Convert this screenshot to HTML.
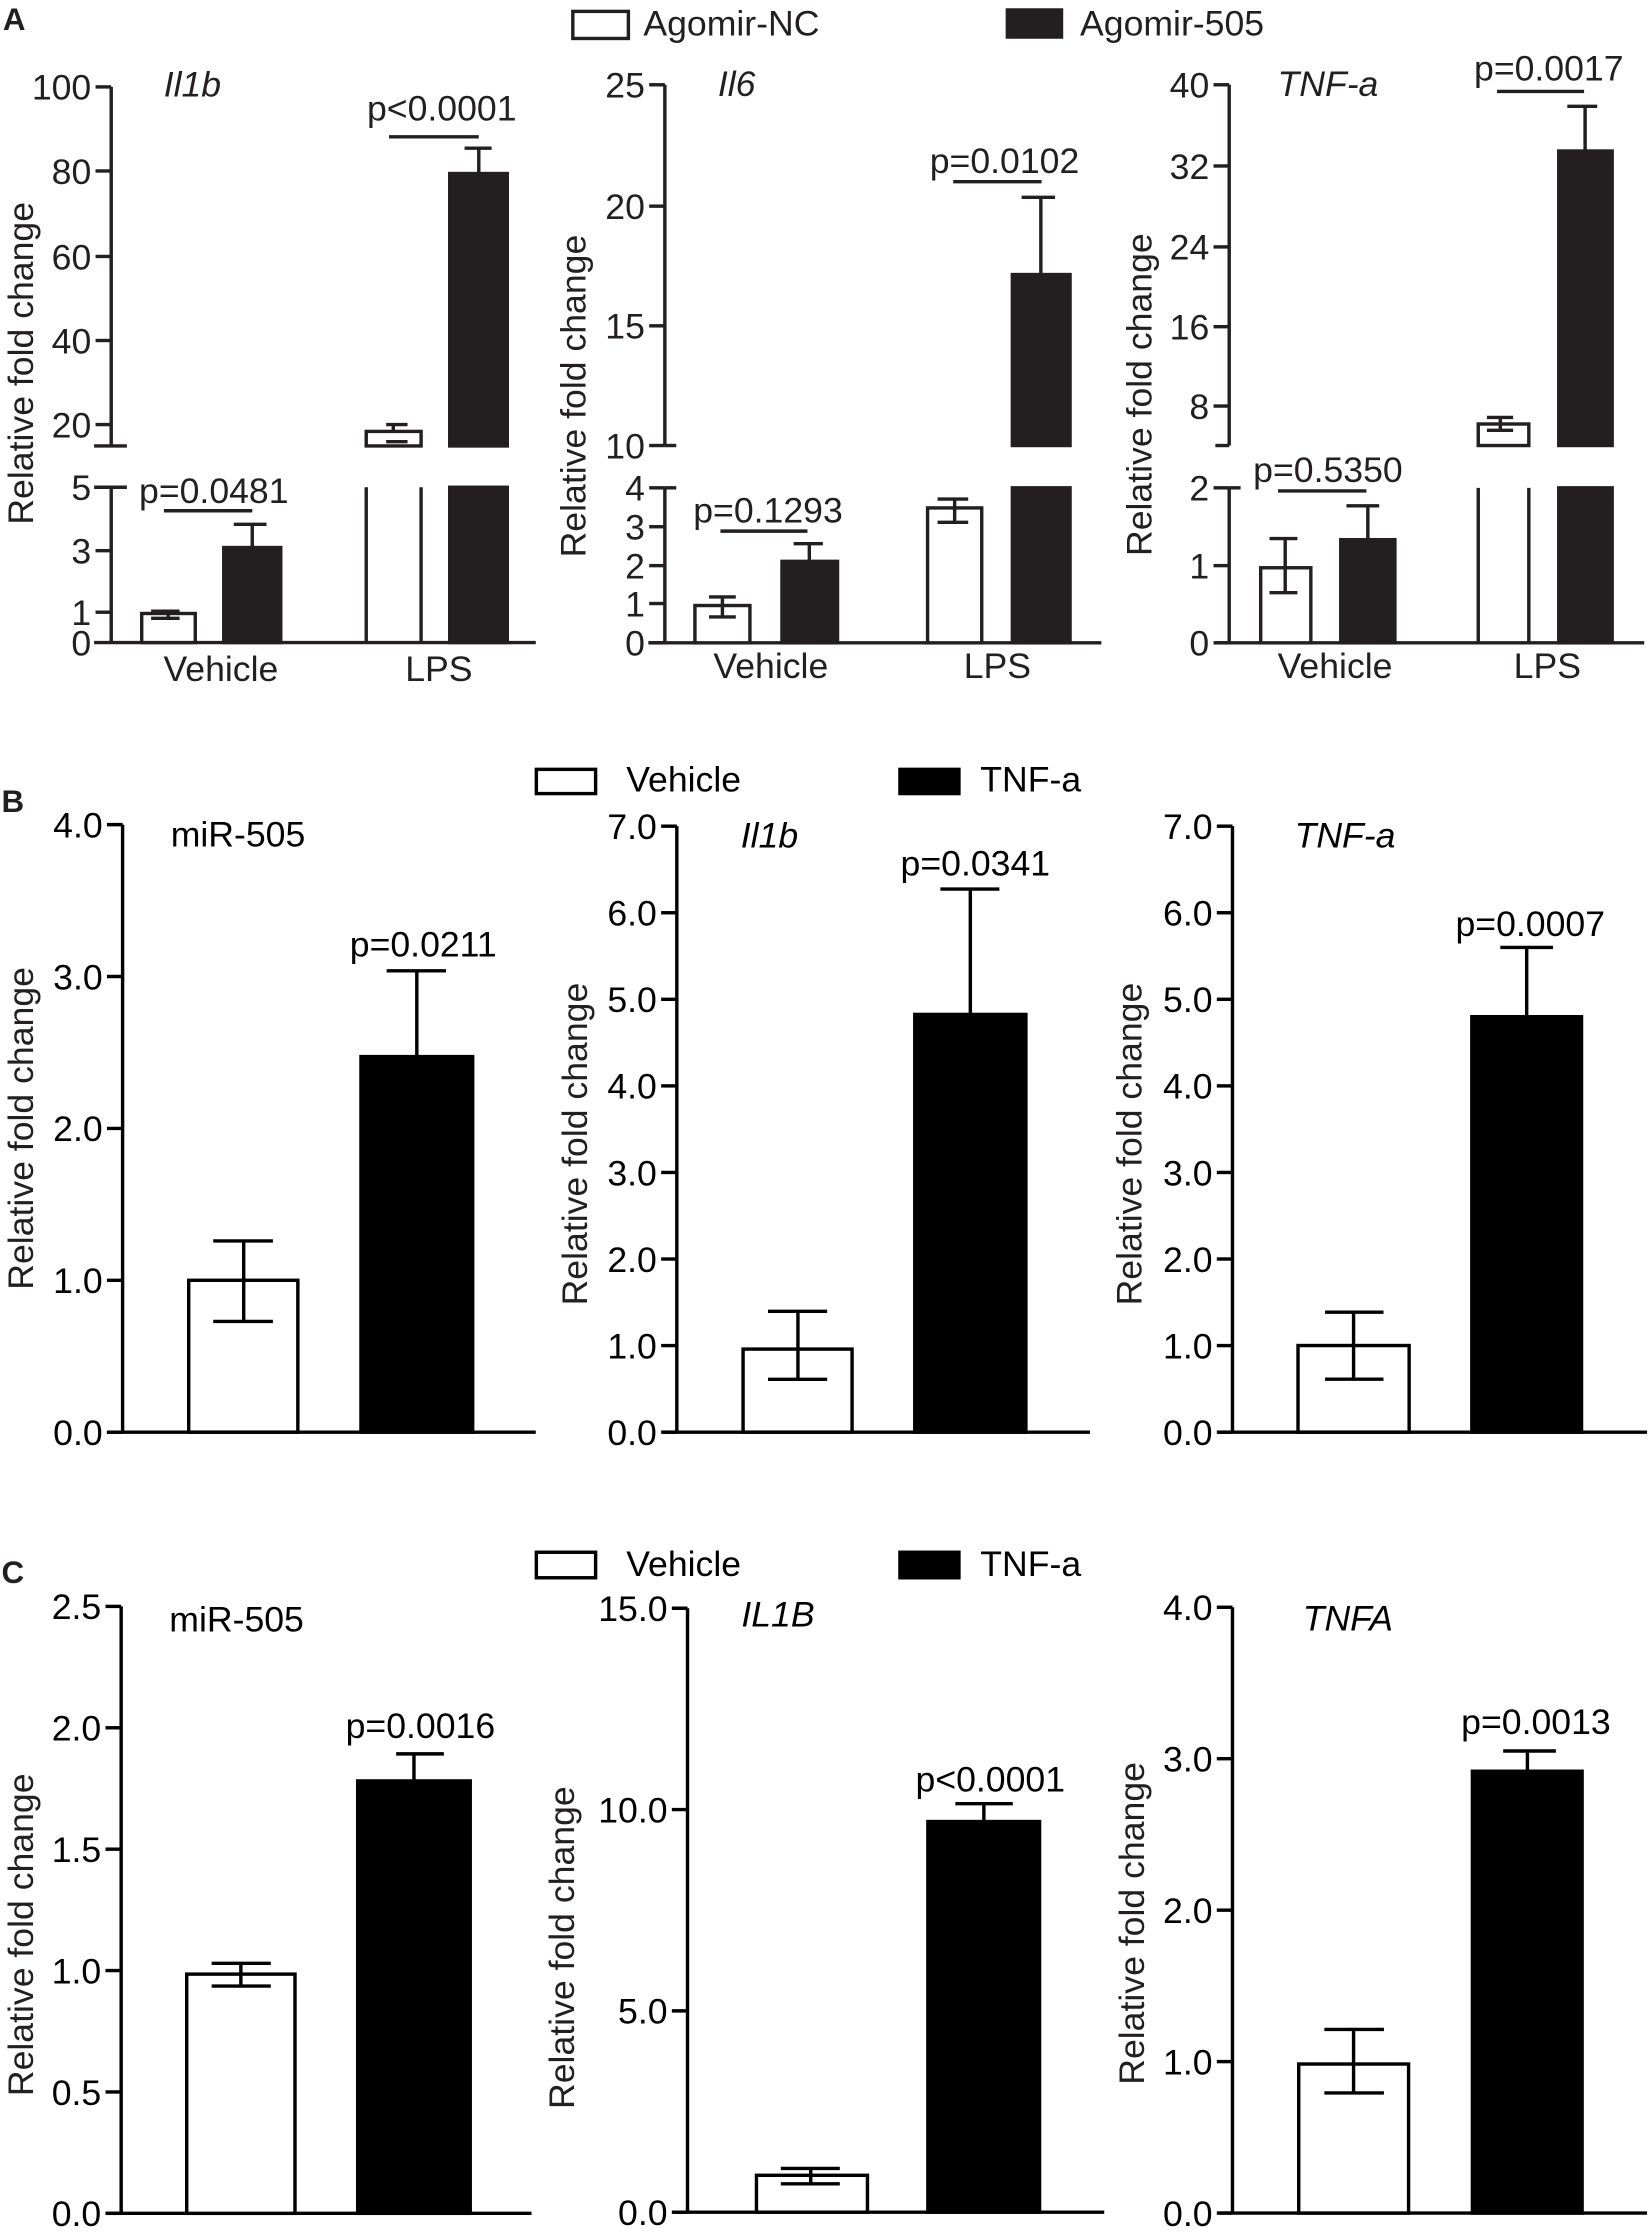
<!DOCTYPE html>
<html><head><meta charset="utf-8"><style>
html,body{margin:0;padding:0;background:#fff;}
svg{display:block;}
text{font-family:"Liberation Sans",Arial,sans-serif;}
</style></head><body>
<svg id="s" width="1650" height="2234" viewBox="0 0 1158 1568" xmlns="http://www.w3.org/2000/svg"></svg>
<script>
const S=document.getElementById('s');let h='';
const SW=2.4;
function L(x1,y1,x2,y2,c){h+=`<line x1="${x1}" y1="${y1}" x2="${x2}" y2="${y2}" stroke="${c||'#231f20'}" stroke-width="${SW}"/>`;}
function R(x1,y1,x2,y2,fill,c){h+=`<rect x="${x1}" y="${y1}" width="${x2-x1}" height="${y2-y1}" fill="${fill}" stroke="${c||'#231f20'}" stroke-width="${SW}"/>`;}
function T(x,y,t,o){o=o||{};h+=`<text x="${x}" y="${y}" font-size="${o.fs||25}" text-anchor="${o.a||'middle'}" ${o.it?'font-style="italic"':''} ${o.b?'font-weight="bold"':''} fill="${o.c||'#231f20'}">${t}</text>`;}
function YL(x,cy){h+=`<text transform="translate(${x},${cy}) rotate(-90)" font-size="25" text-anchor="middle" fill="#231f20">Relative fold change</text>`;}
function ticks(ax,list,c){list.forEach(([y,l])=>{L(ax-11,y,ax,y,c);T(ax-14,y+9,l,{a:'end',c:c});});}
function err(xc,y1,y2,cx1,cx2,c){L(xc,y1,xc,y2,c);L(cx1,y2,cx2,y2,c);}
const D='#231f20';
// Panel A
T(2,21,'A',{b:1,fs:22,a:'start'});
R(402,8,441,27,'#fff');T(451.5,25,'Agomir-NC',{a:'start'});
R(707,7,745,26,D);T(758,25,'Agomir-505',{a:'start'});
// A1
{const ax=78;L(ax,61,ax,313);L(ax,342,ax,451);L(66,451,376,451);
ticks(ax,[[61,'100'],[120,'80'],[180,'60'],[239,'40'],[298,'20']]);L(66,313,89,313);
L(66,342,89,342);T(ax-14,351,'5',{a:'end'});ticks(ax,[[386.5,'3'],[429.7,'1']]);T(ax-14,460,'0',{a:'end'});
R(99.4,430.6,137,451,'#fff');err(118,430.6,434,106,126);L(106,429,126,429);
R(157,384.3,197,451,D);err(177,384.3,368,164,187);
L(115,358.5,177,358.5);T(150,353,'p=0.0481');
R(257,302.8,295.5,313,'#fff');err(276,302.8,298,271,286);L(271,310,286,310);
L(257,342,257,451);L(295.5,342,295.5,451);
R(315.6,121.8,356,313,D);R(315.6,342,356,451,D);err(336,121.8,104,326,345);
L(273,96,336,96);T(310,84.6,'p&lt;0.0001');T(135,67.6,'Il1b',{it:1});
YL(23,255);T(155,478,'Vehicle');T(308,478,'LPS');}
// A2
{const ax=466.6;L(ax,59.5,ax,312.7);L(ax,342.4,ax,451.2);L(455,451.2,773,451.2);
ticks(ax,[[59.5,'25'],[144.7,'20'],[228.7,'15'],[312.7,'10'],[342.4,'4'],[369.7,'3'],[397,'2'],[423.6,'1'],[451.2,'0']]);
L(ax,312.7,ax+8,312.7);L(ax,342.4,ax+8,342.4);
R(487.7,425,526.3,451.2,'#fff');L(507,419,507,433);L(497.6,419,516.4,419);L(497.6,433,516.4,433);
R(548.8,394,587.8,451.2,D);err(568,394,381.6,557,577.5);
L(505.6,372.8,566.7,372.8);T(539,366.6,'p=0.1293');
R(651,356.5,689,451.2,'#fff');L(670,350.3,670,366.6);L(658,350.3,679.5,350.3);L(658,366.6,679.5,366.6);
R(710.5,192.7,751,312.7,D);R(710.5,342.4,751,451.2,D);err(730.5,192.7,138.5,717,740.5);
L(669,127.5,731,127.5);T(705,121.6,'p=0.0102');T(517,67.4,'Il6',{it:1});
YL(411,278);T(541,476,'Vehicle');T(700,476,'LPS');}
// A3
{const ax=862.7;L(ax,59.5,ax,312.7);L(ax,342.4,ax,451.2);L(853,451.2,1154,451.2);
ticks(ax,[[59.5,'40'],[116.5,'32'],[173.3,'24'],[229.3,'16'],[285,'8'],[342.4,'2'],[397,'1'],[451.2,'0']]);
L(853,312.7,ax,312.7);L(ax,342.4,ax+8,342.4);
R(884.8,398.5,920,451.2,'#fff');L(902,378,902,416);L(891,378,910.6,378);L(891,416,910.6,416);
R(941,378.8,979,451.2,D);err(960,378.8,355,945,968);
L(897,344.6,959,344.6);T(932,338.4,'p=0.5350');
R(1037.5,297.6,1073,312.7,'#fff');L(1053,293,1053,302);L(1043.6,293,1062,293);L(1043.6,302,1062,302);
L(1037.5,342.4,1037.5,451.2);L(1073,342.4,1073,451.2);
R(1094,106,1131.5,312.7,D);R(1094,342.4,1131.5,451.2,D);err(1112.5,106,74.6,1100,1121);
L(1050.7,64.2,1111.8,64.2);T(1087,56.4,'p=0.0017');T(932,67.4,'TNF-a',{it:1});
YL(808,277);T(937,476,'Vehicle');T(1086,476,'LPS');}
// Panel B
const K='#000';
T(1,570,'B',{b:1,fs:22,a:'start'});
R(376.4,540,418,557,'#fff',K);T(439.5,555.4,'Vehicle',{a:'start',c:K});
R(631.6,540,673,557,K,K);T(688,555.4,'TNF-a',{a:'start',c:K});
function axis(ax,top,bot,x1,x2,list){L(ax,top,ax,bot,K);L(x1,bot,x2,bot,K);ticks(ax,list,K);}
// B1
{const b=1005.2,u=106.6,y=v=>b-v*u;axis(86,y(4),b,75,376,[0,1,2,3,4].map(v=>[y(v),v.toFixed(1)]));
R(132.4,y(1),209,b,'#fff',K);L(171,871,171,927.5,K);L(149.6,871,191.5,871,K);L(149.6,927.5,191.5,927.5,K);
R(253.3,741.6,331.7,b,K,K);err(292.5,741.6,681.4,271.3,313,K);
T(297,671.4,'p=0.0211',{c:K});T(167,594,'miR-505',{c:K});YL(23,792);}
// B2
{const b=1005.2,u=60.76,y=v=>b-v*u;axis(475,y(7),b,465,765,[0,1,2,3,4,5,6,7].map(v=>[y(v),v.toFixed(1)]));
R(521.5,946.9,598,b,'#fff',K);L(560,920.4,560,968.1,K);L(539,920.4,580.5,920.4,K);L(539,968.1,580.5,968.1,K);
R(642,712,720,b,K,K);err(681,712,624,660,701.4,K);
T(684.5,614.4,'p=0.0341',{c:K});T(540,595,'Il1b',{it:1,c:K});YL(412,803);}
// B3
{const b=1005.2,u=60.76,y=v=>b-v*u;axis(865,y(7),b,855,1156,[0,1,2,3,4,5,6,7].map(v=>[y(v),v.toFixed(1)]));
R(911,944.4,989,b,'#fff',K);L(950,921,950,968,K);L(930,921,971,921,K);L(930,968,971,968,K);
R(1033,713.6,1110,b,K,K);err(1071.5,713.6,665,1053,1090,K);
T(1074,657,'p=0.0007',{c:K});T(944,595,'TNF-a',{it:1,c:K});YL(801,803);}
// Panel C
T(1,1111,'C',{b:1,fs:22,a:'start'});
R(376.4,1089.5,418,1107.4,'#fff',K);T(439.5,1106,'Vehicle',{a:'start',c:K});
R(631.6,1089.5,673,1107.4,K,K);T(688,1106,'TNF-a',{a:'start',c:K});
// C1
{const b=1553.5,u=170.4,y=v=>b-v*u;axis(85,y(2.5),b,74,373,[0,0.5,1,1.5,2,2.5].map(v=>[y(v),v.toFixed(1)]));
R(131,1385.6,207,b,'#fff',K);L(169,1378,169,1394,K);L(148.5,1378,190,1378,K);L(148.5,1394,190,1394,K);
R(251,1250,330,b,K,K);err(290.5,1250,1231,278,311.5,K);
T(295,1220,'p=0.0016',{c:K});T(166,1145,'miR-505',{c:K});YL(23,1358);}
// C2
{const b=1552.7,u=28.26,y=v=>b-v*u;axis(482.5,y(15),b,473,775,[[y(0),'0.0'],[y(5),'5.0'],[y(10),'10.0'],[y(15),'15.0']]);
R(530.9,1526.8,608.8,b,'#fff',K);L(569,1522,569,1532.8,K);L(548,1522,589.4,1522,K);L(548,1532.8,589.4,1532.8,K);
R(651.2,1278.5,729.6,b,K,K);err(690.5,1278.5,1266,670.5,710.8,K);
T(695,1257.4,'p&lt;0.0001',{c:K});T(546,1141.5,'IL1B',{it:1,c:K});YL(403,1367);}
// C3
{const b=1553.3,u=106.3,y=v=>b-v*u;axis(865,y(4),b,855.6,1156,[0,1,2,3,4].map(v=>[y(v),v.toFixed(1)]));
R(911.5,1448.7,988.6,b,'#fff',K);L(950,1424.4,950,1469,K);L(929.5,1424.4,971.3,1424.4,K);L(929.5,1469,971.3,1469,K);
R(1033.4,1243.2,1110.4,b,K,K);err(1072,1243.2,1229,1055,1092,K);
T(1078,1217,'p=0.0013',{c:K});T(946,1144.6,'TNFA',{it:1,c:K});YL(803,1350);}
S.innerHTML=h;
</script>
</body></html>
